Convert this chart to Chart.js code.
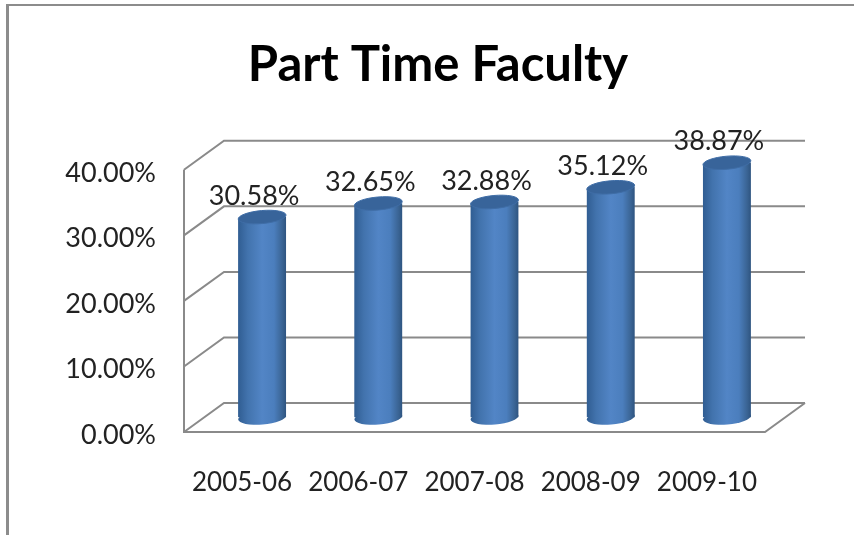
<!DOCTYPE html>
<html>
<head>
<meta charset="utf-8">
<title>Part Time Faculty</title>
<script src="https://cdn.jsdelivr.net/npm/chart.js@4"></script>
<style>
    html, body { margin: 0; padding: 0; background: #fff; overflow: hidden; }
    #frame { position: absolute; left: 6px; top: 4px; right: 0; bottom: 0; border-left: 3px solid #8c8c8c; border-top: 2px solid #8c8c8c; }
    #partTime { position: absolute; left: 0; top: 0; filter: blur(0.5px); }
</style>
</head>
<body>
<div id="frame"></div>
<canvas id="partTime" width="854" height="535"></canvas>
<script>
const years = ['2005-06', '2006-07', '2007-08', '2008-09', '2009-10'];
const partTimeShare = [30.58, 32.65, 32.88, 35.12, 38.87];
const tickValues = [0, 10, 20, 30, 40];

const depthX = 40, depthY = 29;
const wallColor = '#8a8a8a';
const textColor = '#222222';
const tilt = -5 * Math.PI / 180;

function barFill(context) {
    const chart = context.chart;
    if (!chart.chartArea || context.dataIndex === undefined) return '#4a7ab8';
    const x = chart.scales.x.getPixelForValue(context.dataIndex);
    const g = chart.ctx.createLinearGradient(x - 24, 0, x + 24, 0);
    g.addColorStop(0, '#305d92');
    g.addColorStop(0.2, '#4273ad');
    g.addColorStop(0.5, '#5285c6');
    g.addColorStop(0.75, '#4b7ebd');
    g.addColorStop(0.92, '#3a6494');
    g.addColorStop(1, '#2e5480');
    return g;
}

const cylinder3d = {
    id: 'cylinder3d',
    afterLayout(chart) {
        // tick labels get clipped to the scale box, let them run to the canvas edge
        chart.scales.y.left = 0;
    },
    beforeDatasetsDraw(chart) {
        const ctx = chart.ctx;
        const { x: xs, y: ys } = chart.scales;
        const left = xs.left, right = xs.right;

        // floor and walls
        ctx.save();
        ctx.strokeStyle = wallColor;
        ctx.lineWidth = 2;
        ctx.beginPath();
        tickValues.forEach(v => {
            const y = ys.getPixelForValue(v);
            ctx.moveTo(left, y);
            ctx.lineTo(left + depthX, y - depthY);
            ctx.lineTo(right + depthX, y - depthY);
        });
        ctx.moveTo(left, ys.getPixelForValue(40));
        ctx.lineTo(left, ys.getPixelForValue(0));
        ctx.lineTo(right, ys.getPixelForValue(0));
        ctx.lineTo(right + depthX, ys.getPixelForValue(0) - depthY);
        ctx.stroke();
        ctx.restore();

        // bars sit half way back on the floor
        ctx.save();
        ctx.translate(depthX / 2, -depthY / 2);
        const bars = chart.getDatasetMeta(0).data;
        bars.forEach(bar => {
            ctx.beginPath();
            ctx.ellipse(bar.x, bar.base, bar.width / 2, 7, tilt, 0, Math.PI * 2);
            ctx.fillStyle = bar.options.backgroundColor;
            ctx.fill();
        });
        ctx.beginPath();
        bars.forEach(bar => {
            const dy = Math.sin(tilt) * bar.width / 2;
            ctx.moveTo(bar.x - bar.width / 2, bar.y - dy);
            ctx.lineTo(bar.x + bar.width / 2, bar.y + dy);
            ctx.lineTo(bar.x + bar.width / 2, bar.base);
            ctx.lineTo(bar.x - bar.width / 2, bar.base);
            ctx.closePath();
        });
        ctx.clip();
    },
    afterDatasetsDraw(chart) {
        const ctx = chart.ctx;
        ctx.restore();

        const ox = depthX / 2, oy = -depthY / 2;
        chart.getDatasetMeta(0).data.forEach((bar, i) => {
            ctx.beginPath();
            ctx.ellipse(bar.x + ox, bar.y + oy, bar.width / 2, 6.5, tilt, 0, Math.PI * 2);
            ctx.fillStyle = '#38649a';
            ctx.strokeStyle = '#3f6da6';
            ctx.lineWidth = 1;
            ctx.fill();
            ctx.stroke();

            ctx.fillStyle = textColor;
            ctx.font = '27px Lato';
            ctx.textAlign = 'center';
            ctx.textBaseline = 'middle';
            ctx.fillText(partTimeShare[i].toFixed(2) + '%', bar.x + ox - 8, bar.y + oy - 21);
        });
    }
};

new Chart(document.getElementById('partTime'), {
    type: 'bar',
    data: {
        labels: years,
        datasets: [{
            label: 'Part Time Faculty',
            data: partTimeShare,
            backgroundColor: barFill,
            borderWidth: 0,
            barThickness: 48
        }]
    },
    options: {
        responsive: false,
        animation: false,
        layout: { padding: { left: 111, right: 89, top: 0, bottom: 0 } },
        plugins: {
            legend: { display: false },
            tooltip: { enabled: false },
            title: {
                display: true,
                text: 'Part Time Faculty',
                color: '#000000',
                font: { family: 'Lato', size: 49, weight: 'bold', lineHeight: 1.2 },
                padding: { top: 36, bottom: 75 }
            }
        },
        scales: {
            x: {
                grid: { display: false },
                border: { display: false },
                ticks: { color: textColor, font: { family: 'Lato', size: 26 }, padding: 27, maxRotation: 0 },
                afterFit(scale) { scale.height = 103; }
            },
            y: {
                min: 0,
                max: 40,
                grid: { display: false, drawTicks: false },
                border: { display: false },
                ticks: {
                    stepSize: 10,
                    color: textColor,
                    font: { family: 'Lato', size: 27 },
                    padding: 28,
                    labelOffset: 3,
                    callback: v => v.toFixed(2) + '%'
                },
                afterFit(scale) { scale.width = 73; }
            }
        }
    },
    plugins: [cylinder3d]
});
</script>
</body>
</html>
